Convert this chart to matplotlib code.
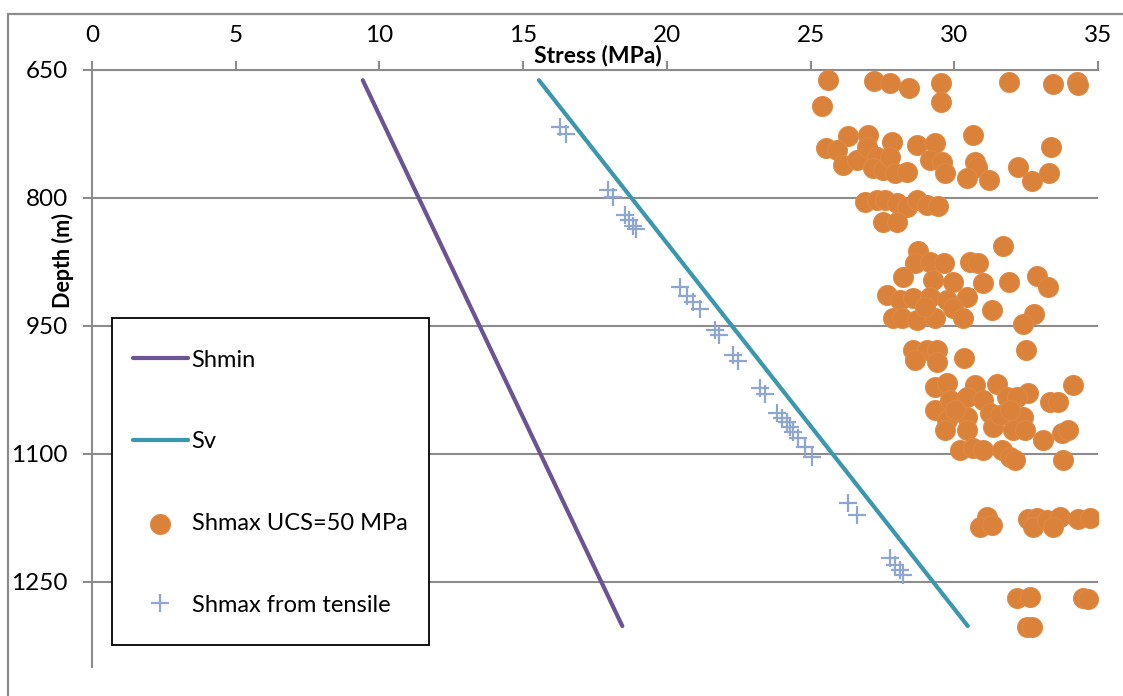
import matplotlib
matplotlib.use("Agg")
import matplotlib.pyplot as plt
from matplotlib.patches import Rectangle

plt.rcParams['font.family'] = ['Lato', 'DejaVu Sans']

# ---- data ----
line_depth = [662, 1302]
shmin = [9.42, 18.45]
sv = [15.55, 30.47]

ucs_stress = [25.61, 27.21, 27.76, 28.42, 29.54, 29.54, 25.40, 31.90, 33.43, 34.27, 34.30,
              25.54, 26.30, 27.00, 25.92, 26.13, 26.62, 26.96, 27.31, 27.17, 27.52, 27.83, 27.76,
              27.94, 28.35, 28.70, 29.33, 29.15, 29.57, 29.68, 30.65, 30.72, 30.79, 30.44, 31.21,
              32.22, 32.70, 33.30, 33.36,
              26.89, 27.31, 27.59, 28.01, 28.35, 28.70, 29.05, 29.43, 27.52, 28.01,
              31.69, 28.74, 28.63, 29.15, 29.64, 30.55, 30.82, 28.22, 29.26, 29.96, 31.00, 31.90,
              32.88, 33.26, 27.66, 28.11, 28.56, 29.15, 29.75, 30.44, 27.87, 28.18, 28.70, 29.33,
              28.98, 29.96, 30.30, 31.31, 32.77, 32.39,
              28.56, 29.05, 29.40, 28.63, 29.40, 30.34, 32.50,
              29.33, 29.75, 30.72, 31.49, 32.56, 34.13, 29.33, 29.85, 30.44, 31.00, 31.83, 32.18,
              33.33, 33.61, 29.75, 30.44, 31.24, 32.39, 29.68, 30.44, 31.35, 32.04, 32.46, 33.09,
              33.75, 33.96, 30.20, 30.65, 31.00, 31.66, 31.94, 32.11, 33.78, 30.02, 31.59, 31.94,
              31.14, 30.89, 31.31, 32.56, 32.88, 32.74, 33.23, 33.68, 33.43, 34.30, 34.72,
              32.18, 32.63, 34.48, 34.65, 32.53, 32.70]
ucs_depth = [661.7, 662.9, 665.2, 671.1, 665.2, 687.5, 692.2, 664.1, 666.4, 664.1, 667.6,
             741.4, 727.3, 726.2, 743.8, 761.3, 755.5, 740.2, 752.0, 764.8, 767.2, 734.4, 752.0,
             770.7, 769.5, 737.9, 735.5, 755.5, 757.8, 770.7, 726.2, 757.8, 763.7, 776.6, 778.9,
             763.7, 780.1, 770.7, 740.2,
             804.7, 802.3, 802.3, 805.9, 810.5, 802.3, 808.2, 809.4, 828.1, 828.1,
             856.3, 862.1, 876.2, 875.0, 876.2, 875.0, 876.2, 892.6, 896.1, 898.4, 899.6, 898.4,
             891.4, 904.3, 913.7, 919.5, 917.2, 916.0, 919.5, 916.0, 940.6, 940.6, 943.0, 940.6,
             927.7, 928.9, 940.6, 931.3, 935.9, 947.7,
             978.1, 978.1, 978.1, 989.8, 992.2, 987.5, 978.1,
             1021.5, 1016.8, 1019.1, 1018.0, 1028.5, 1019.1, 1048.4, 1036.7, 1033.2, 1036.7, 1033.2, 1033.2,
             1039.1, 1039.1, 1060.2, 1056.6, 1052.0, 1056.6, 1071.9, 1071.9, 1068.4, 1071.9, 1071.9, 1083.6,
             1075.4, 1071.9, 1095.3, 1093.0, 1095.3, 1095.3, 1103.5, 1107.0, 1107.0, 1048.4, 1054.3, 1048.4,
             1173.8, 1185.5, 1183.2, 1176.2, 1175.0, 1185.5, 1177.3, 1173.8, 1185.5, 1176.2, 1175.0,
             1268.8, 1267.6, 1268.8, 1269.9, 1302.7, 1302.7]

tens_stress = [16.28, 16.49, 17.95, 18.13, 18.53, 18.70, 18.81, 18.92, 20.46, 20.70, 20.91, 21.16,
               21.68, 21.82, 22.30, 22.48, 23.24, 23.41, 23.83, 24.01, 24.18, 24.28, 24.39, 24.56,
               24.81, 25.05, 26.30, 26.62, 27.76, 27.94, 28.11, 28.22]
tens_depth = [716.8, 725.0, 790.6, 798.8, 819.9, 825.8, 832.8, 836.3, 904.3, 914.9, 921.9, 930.1,
              954.7, 960.6, 984.0, 991.0, 1022.7, 1029.7, 1052.0, 1057.8, 1062.5, 1068.4, 1074.2, 1081.3,
              1091.8, 1103.5, 1157.4, 1171.5, 1221.9, 1230.1, 1235.9, 1241.8]

x_ticks = [0, 5, 10, 15, 20, 25, 30, 35]
y_ticks = [650, 800, 950, 1100, 1250]

# ---- figure ----
W, H = 1123, 696
fig = plt.figure(figsize=(W / 100, H / 100), dpi=100)
ax = fig.add_axes([92 / W, 1 - 667 / H, (1098 - 92) / W, (667 - 70) / H])

grid_c = '#8C8C8C'
# chart-area border
fig.patches.append(Rectangle((8 / W, -0.1), 1.2, 1 - 14 / H + 0.1, transform=fig.transFigure,
                             fill=False, edgecolor='#8C8C8C', linewidth=1.6, zorder=0))

ax.set_xlim(0, 35)
ax.set_ylim(1350, 650)
ax.set_xticks(x_ticks)
ax.set_yticks(y_ticks)
ax.xaxis.tick_top()
ax.xaxis.set_label_position('top')
for s in ['right', 'bottom']:
    ax.spines[s].set_visible(False)
for s in ['left', 'top']:
    ax.spines[s].set_color(grid_c)
    ax.spines[s].set_linewidth(1.5)
ax.tick_params(axis='both', colors=grid_c, labelcolor='black', labelsize=17.5,
               length=6.5, width=1.5, direction='out')
ax.tick_params(axis='x', pad=11)
ax.tick_params(axis='y', pad=11)
ax.yaxis.grid(True, color=grid_c, linewidth=1.5)
ax.set_axisbelow(True)

ax.plot(shmin, line_depth, color='#6C5394', lw=3.0, solid_capstyle='round', label='Shmin', zorder=3)
ax.plot(sv, line_depth, color='#3A97AE', lw=3.0, solid_capstyle='round', label='Sv', zorder=3)
ax.scatter(ucs_stress, ucs_depth, s=205, color='#DB823A', edgecolors='#DE8A45', linewidths=0.8,
           label='Shmax UCS=50 MPa', zorder=4)
ax.plot(tens_stress, tens_depth, linestyle='none', marker='+', markersize=13, mew=1.6,
        color='#8EA6D0', label='Shmax from tensile', zorder=5)

ax.set_xlabel('Stress (MPa)', fontsize=16.5, fontweight='bold')
ax.xaxis.label.set_va('center')
ax.xaxis.set_label_coords((598 - 92) / 1006, 1 + 14 / 597)
ax.set_ylabel('Depth (m)', fontsize=15.5, fontweight='bold')
ax.yaxis.label.set_va('center')
ax.yaxis.set_label_coords((63 - 92) / 1006, (667 - 261) / 597)

leg = ax.legend(loc='upper left', bbox_to_anchor=(103 / W, 1 - 320 / H), bbox_transform=fig.transFigure,
                fontsize=17, frameon=False,
                borderpad=1.25, labelspacing=2.57, handlelength=2.37, handletextpad=0.13,
                borderaxespad=0, scatterpoints=1)
leg.set_zorder(10)
# legend frame
ax.add_patch(Rectangle((112 / W, 1 - 645 / H), (429 - 112) / W, (645 - 318) / H,
                       transform=fig.transFigure, facecolor='white', edgecolor='black',
                       linewidth=1.3, zorder=9))

fig.savefig('out.png', dpi=100)
